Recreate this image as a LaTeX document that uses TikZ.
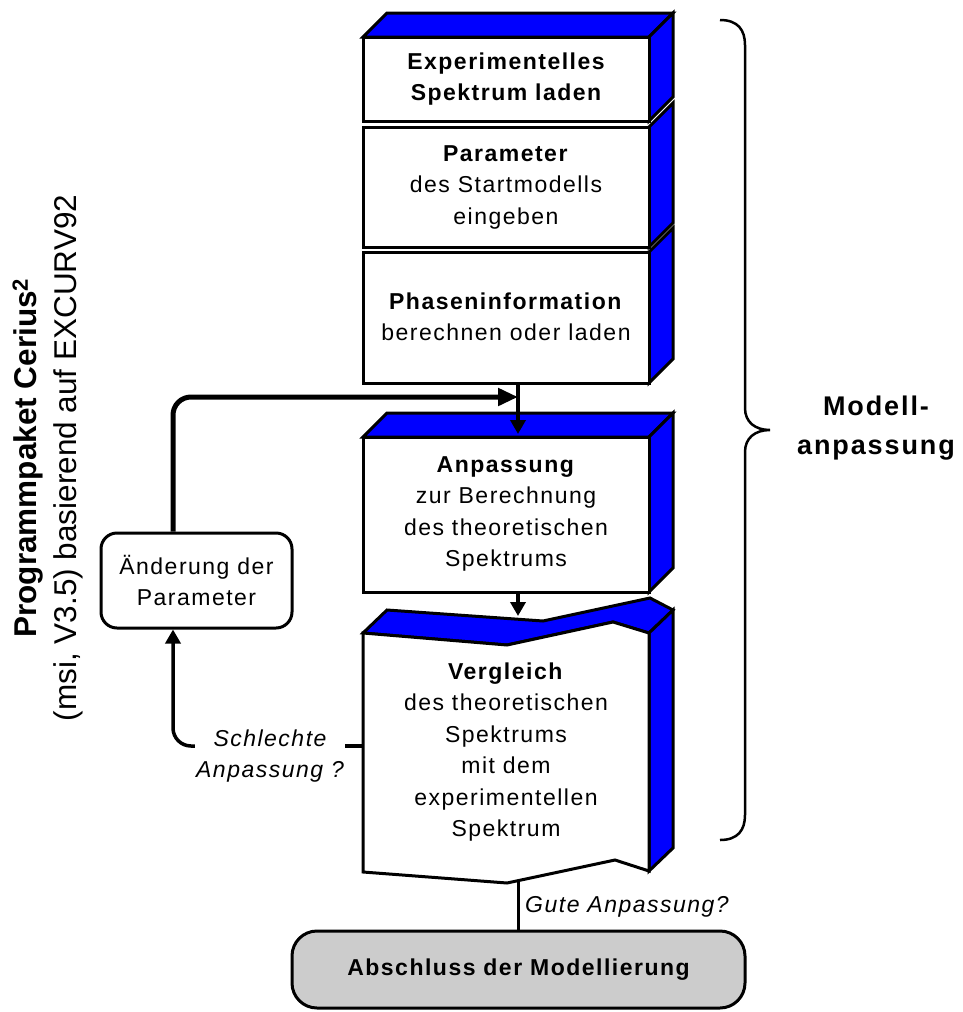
\documentclass[tikz,border=0pt]{standalone}
\usepackage{fontspec}
\setmainfont{Liberation Sans}
\newfontfamily\lsp{Liberation Sans}[LetterSpace=6.5]
\newfontfamily\lspb{Liberation Sans}[LetterSpace=7]
\usetikzlibrary{arrows.meta}
\definecolor{boxblue}{HTML}{0000FF}
\definecolor{endgray}{HTML}{CCCCCC}
\begin{document}
\begin{tikzpicture}[x=1pt,y=-1pt,
  face/.style={draw=black,line width=3pt,fill=white,line join=miter},
  depth/.style={draw=black,line width=3pt,fill=boxblue,line join=miter},
  boxtext/.style={align=center,font=\lsp\fontsize{23}{31.5}\selectfont,inner sep=0pt},
  boldtext/.style={boxtext,font=\lsp\bfseries\fontsize{23}{31.5}\selectfont},
  conn/.style={line width=3.5pt,-{Triangle[length=14pt,width=15pt]}},
  fbconn/.style={line width=5pt,rounded corners=18pt,-{Triangle[length=20pt,width=17pt]}},
  plainline/.style={line width=3pt},
  roundbox/.style={draw=black,line width=3pt,rounded corners=16pt},
  label/.style={font=\lsp\itshape\fontsize{23}{31.5}\selectfont,align=center,inner sep=1pt}
]
\useasboundingbox (0,0) rectangle (962,1012);

% box 3
\filldraw[depth] (649,252) -- (673,228) -- (673,359) -- (649,383) -- cycle;
\filldraw[face] (363,252) rectangle (649,383);
% box 2
\filldraw[depth] (649,127) -- (673,103) -- (673,223) -- (649,247) -- cycle;
\filldraw[face] (363,127) rectangle (649,247);
% box 1
\filldraw[depth] (363,37) -- (387,13) -- (673,13) -- (649,37) -- cycle;
\filldraw[depth] (649,37) -- (673,13) -- (673,97) -- (649,121) -- cycle;
\filldraw[face] (363,37) rectangle (649,121);
% box 4
\filldraw[depth] (363,437) -- (387,413) -- (673,413) -- (649,437) -- cycle;
\filldraw[depth] (649,437) -- (673,413) -- (673,568) -- (649,592) -- cycle;
\filldraw[face] (363,437) rectangle (649,592);
% Vergleich
\filldraw[depth] (363,633) -- (507,645) -- (613,622) -- (649,633) -- (673,610) -- (650,598) -- (543,621) -- (387,610) -- cycle;
\filldraw[depth] (649,633) -- (673,610) -- (673,848) -- (649,871) -- cycle;
\filldraw[face] (363,633) -- (507,645) -- (613,622) -- (649,633) -- (649,871) -- (615,860) -- (507,883) -- (363,872) -- cycle;

% texts
\node[boldtext] (t1) at (506,79) {Experimentelles\\Spektrum laden};
\node[boxtext] (t2) at (506,187) {\textbf{Parameter}\\des Startmodells\\eingeben};
\node[boxtext] (t3) at (506,317) {\textbf{Phaseninformation}\\berechnen oder laden};
\node[boxtext] (t4) at (506,514) {\textbf{Anpassung}\\zur Berechnung\\des theoretischen\\Spektrums};
\node[boxtext] (t5) at (506,752) {\textbf{Vergleich}\\des theoretischen\\Spektrums\\mit dem\\experimentellen\\Spektrum};

\node[roundbox,boxtext,minimum width=191pt,minimum height=95pt] (aend) at (196.5,580.5) {Änderung der\\Parameter};
\node[draw=black,line width=3pt,fill=endgray,rounded corners=25pt,minimum width=453pt,minimum height=77pt,boldtext] (absch) at (518.5,969.5) {Abschluss der Modellierung};

% anchor coordinates
\coordinate (b3s) at (518,383);
\coordinate (b4n) at (518,434);
\coordinate (b4s) at (518,592);
\coordinate (vgn) at (518,616);
\coordinate (vgw) at (363,746);
\coordinate (vgs) at (518,880);
\coordinate (fbin) at (518,397);

% connectors
\draw[conn] (b3s) -- (b4n);
\draw[conn] (b4s) -- (vgn);
\draw[fbconn] ([xshift=-23.5pt]aend.north) |- (fbin);

\node[label] (schl) at (270,756) {Schlechte\\Anpassung ?};
\draw[line width=3.5pt] (vgw) -- (schl.east |- vgw);
\draw[conn,rounded corners=18pt] (schl.west |- vgw) -| ([xshift=-23.5pt]aend.south);

\draw[plainline] (vgs) -- (absch.north -| vgs);
\node[label,anchor=west] (gute) at (524,907) {Gute Anpassung?};

% brace
\draw[line width=2.5pt] (720,20) .. controls (738,20) and (745,30) .. (745,45) -- (745,408)
  .. controls (745,422) and (755,430) .. (770,430)
  .. controls (755,430) and (745,438) .. (745,452) -- (745,815)
  .. controls (745,830) and (738,840) .. (720,840);
\node[font=\lspb\bfseries\fontsize{27}{39}\selectfont,align=center,inner sep=0pt] (ml) at (876,428) {Modell-\\anpassung};

% left label
\node[rotate=90,align=center,inner sep=0pt,font=\fontsize{31.5}{40}\selectfont] (prog) at (48,458) {\textbf{Programmpaket Cerius\textsuperscript{2}}\\(msi, V3.5) basierend auf EXCURV92};
\end{tikzpicture}
\end{document}
